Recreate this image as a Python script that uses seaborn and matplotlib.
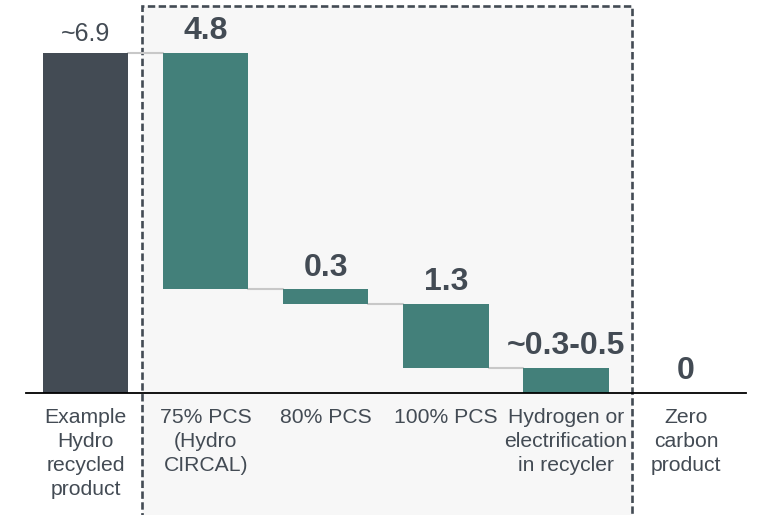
"""Waterfall: carbon footprint steps from recycled product to zero carbon."""

import matplotlib.pyplot as plt
import numpy as np
import pandas as pd
import seaborn as sns
from matplotlib.patches import Rectangle

categories = [
    "Example\nHydro\nrecycled\nproduct",
    "75% PCS\n(Hydro\nCIRCAL)",
    "80% PCS",
    "100% PCS",
    "Hydrogen or\nelectrification\nin recycler",
    "Zero\ncarbon\nproduct",
]
start_value = 6.9
reductions = [4.8, 0.3, 1.3, 0.5]
end_value = 0.0
value_labels = ["~6.9", "4.8", "0.3", "1.3", "~0.3-0.5", "0"]
bold_labels = [False, True, True, True, True, True]

DARK = "#434b54"
GREEN = "#43807a"
TEXT = "#434b54"
CONNECTOR = "#c8c8c8"

# build floating bar geometry
tops = [start_value]
bottoms = [0.0]
level = start_value
for r in reductions:
    tops.append(level)
    bottoms.append(level - r)
    level -= r
tops.append(end_value)
bottoms.append(0.0)
heights = [t - b for t, b in zip(tops, bottoms)]
colors = [DARK] + [GREEN] * len(reductions) + [DARK]

df = pd.DataFrame({"step": categories, "height": heights, "bottom": bottoms})

sns.set_theme(style="white")
plt.rcParams["font.family"] = ["Liberation Sans", "DejaVu Sans"]

fig = plt.figure(figsize=(7.57, 5.15), dpi=100)
ax = fig.add_axes([0.034, 0.2369, 0.9515, 0.7563])

# highlighted group box
box = Rectangle(
    (0.47, -2.6), 4.08, 7.85 + 2.6,
    facecolor="#f7f7f7", edgecolor="#434b54", linewidth=1.9,
    linestyle=(0, (2.8, 1.3)), clip_on=False, zorder=0,
)
ax.add_patch(box)

BAR_W = 0.71
sns.barplot(data=df, x="step", y="height", bottom=df["bottom"].to_numpy(),
            color=DARK, saturation=1, width=BAR_W, ax=ax, zorder=2)
for patch, c in zip(ax.patches[1:], colors):
    patch.set_facecolor(c)
    patch.set_edgecolor("none")

# connectors between consecutive bars
for i in range(len(reductions)):
    y = tops[0] if i == 0 else bottoms[i]
    ax.plot([i + BAR_W / 2, i + 1 - BAR_W / 2], [y, y], color=CONNECTOR, lw=1.5, zorder=1)

for i, (lab, b) in enumerate(zip(value_labels, bold_labels)):
    ax.annotate(
        lab, (i, tops[i]), xytext=(0, 5), textcoords="offset points",
        ha="center", va="bottom", color=TEXT,
        fontsize=23 if b else 18, fontweight="bold" if b else "normal",
    )

ax.set_xlim(-0.5, len(categories) - 0.5)
ax.set_ylim(0, 7.9)
ax.set_xlabel("")
ax.set_ylabel("")
ax.set_yticks([])
ax.tick_params(axis="x", length=0, pad=10.5, labelsize=15.2, labelcolor=TEXT)
for t in ax.get_xticklabels():
    t.set_linespacing(1.34)
for s in ["top", "left", "right"]:
    ax.spines[s].set_visible(False)
ax.spines["bottom"].set_color("black")
ax.spines["bottom"].set_linewidth(1.3)
ax.patch.set_alpha(0)

fig.savefig("out.png", dpi=100)
